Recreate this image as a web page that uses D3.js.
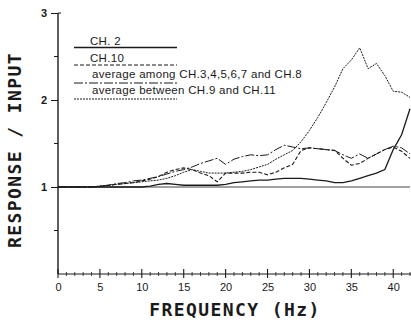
<!DOCTYPE html>
<html><head><meta charset="utf-8">
<script src="https://cdn.jsdelivr.net/npm/d3@7"></script>
<style>body{margin:0;background:#fff}svg{display:block}</style>
</head><body>
<svg id="c" width="411" height="322"></svg>
<script>
const freq = d3.range(0, 43);
const ch2 = [1.0,1.0,1.0,1.0,1.0,1.0,1.0,1.0,1.0,1.0,1.0,1.01,1.03,1.04,1.03,1.02,1.02,1.02,1.02,1.02,1.03,1.05,1.06,1.07,1.08,1.08,1.09,1.1,1.1,1.1,1.09,1.08,1.07,1.05,1.05,1.07,1.1,1.13,1.16,1.2,1.43,1.6,1.9];
const ch10 = [1.0,1.0,1.0,1.0,1.0,1.01,1.02,1.03,1.04,1.05,1.07,1.09,1.12,1.17,1.2,1.22,1.2,1.16,1.13,1.06,1.16,1.16,1.16,1.17,1.17,1.14,1.17,1.22,1.26,1.42,1.45,1.44,1.43,1.42,1.33,1.25,1.27,1.33,1.38,1.43,1.46,1.41,1.33];
const avg3to8 = [1.0,1.0,1.0,1.0,1.0,1.01,1.02,1.04,1.05,1.07,1.08,1.1,1.12,1.15,1.18,1.2,1.23,1.27,1.3,1.33,1.26,1.32,1.35,1.37,1.36,1.37,1.43,1.48,1.46,1.44,1.45,1.44,1.43,1.42,1.37,1.33,1.38,1.33,1.38,1.43,1.47,1.45,1.38];
const avg9and11 = [1.0,1.0,1.0,1.0,1.0,1.01,1.02,1.03,1.04,1.05,1.06,1.07,1.08,1.1,1.13,1.17,1.2,1.18,1.16,1.16,1.16,1.17,1.18,1.2,1.23,1.26,1.32,1.37,1.42,1.52,1.65,1.8,1.97,2.15,2.36,2.46,2.6,2.36,2.42,2.28,2.1,2.09,2.03];
const legendLabels = ["CH. 2","CH.10","average among CH.3,4,5,6,7 and CH.8","average between CH.9 and CH.11"];
const xTicks = [0,5,10,15,20,25,30,35,40];
const yTicks = [1,2,3];

const svg = d3.select("#c");
const x = d3.scaleLinear().domain([0,42]).range([58,410]);
const y = d3.scaleLinear().domain([0,3]).range([274,13]);
const ink = "#1a1a1a";

// axes
const gx = svg.append("g").attr("transform","translate(0,274)");
gx.call(d3.axisBottom(x).tickValues(xTicks).tickSize(0).tickPadding(9).tickFormat(d3.format("d")))
  .call(g=>g.select(".domain").remove());
gx.selectAll("text").attr("font-family","Liberation Sans, Arial, sans-serif").attr("font-size",11).attr("fill",ink);
svg.append("line").attr("x1",x(0)).attr("x2",411).attr("y1",274).attr("y2",274).attr("stroke",ink).attr("stroke-width",1.2);
svg.append("g").selectAll("line").data(d3.range(0,43)).join("line")
  .attr("x1",d=>x(d)).attr("x2",d=>x(d))
  .attr("y1",d=>d%5===0?269:272).attr("y2",d=>d%5===0?278:276)
  .attr("stroke",ink).attr("stroke-width",d=>d%5===0?1.1:0.8);

const gy = svg.append("g").attr("transform","translate(58,0)");
gy.call(d3.axisLeft(y).tickValues(yTicks).tickSize(7).tickPadding(4).tickFormat(d3.format("d")))
  .call(g=>g.select(".domain").remove());
gy.selectAll("text").attr("font-family","Liberation Sans, Arial, sans-serif").attr("font-size",11).attr("font-weight","bold").attr("fill",ink);
gy.selectAll("line").attr("stroke",ink);
svg.append("line").attr("x1",58).attr("x2",58).attr("y1",y(3)).attr("y2",274).attr("stroke",ink).attr("stroke-width",1.4);
svg.append("line").attr("x1",58).attr("x2",61).attr("y1",y(3)).attr("y2",y(3)).attr("stroke",ink);
svg.append("g").selectAll("line").data([0.5,1.5,2.5]).join("line")
  .attr("x1",54).attr("x2",58).attr("y1",d=>y(d)).attr("y2",d=>y(d)).attr("stroke",ink);

// reference line at 1
svg.append("line").attr("x1",x(0)).attr("x2",x(42)).attr("y1",y(1)).attr("y2",y(1)).attr("stroke","#444").attr("stroke-width",1);

const series = [
  {v:ch2, dash:null, w:1.3},
  {v:ch10, dash:"4,2", w:1.1},
  {v:avg3to8, dash:"9,2,2,2", w:1},
  {v:avg9and11, dash:"2,1", w:1}
];
const line = d3.line().x((d,i)=>x(freq[i])).y(d=>y(d));
svg.append("g").selectAll("path").data(series).join("path")
  .attr("d",d=>line(d.v)).attr("fill","none").attr("stroke",ink)
  .attr("stroke-width",d=>d.w).attr("stroke-dasharray",d=>d.dash);

// legend
const ly = [47.5,65,83,99];
const ty = [45,62,78,94];
const lg = svg.append("g");
series.forEach((s,i)=>{
  lg.append("line").attr("x1",74).attr("x2",177).attr("y1",ly[i]).attr("y2",ly[i])
    .attr("stroke",ink).attr("stroke-width",s.w).attr("stroke-dasharray",s.dash);
  lg.append("text").attr("x",i<2?90:92).attr("y",ty[i]).text(legendLabels[i])
    .attr("font-family","Liberation Sans, Arial, sans-serif").attr("font-size",11.5)
    .attr("letter-spacing",0.3).attr("fill",ink);
});

// axis titles
svg.append("text").attr("transform","translate(21,150) rotate(-90)").attr("text-anchor","middle")
  .attr("font-family","DejaVu Sans Mono, monospace").attr("font-weight","bold").attr("font-size",18)
  .attr("letter-spacing",1.4).attr("fill",ink).text("RESPONSE / INPUT");
svg.append("text").attr("x",235).attr("y",316).attr("text-anchor","middle")
  .attr("font-family","DejaVu Sans Mono, monospace").attr("font-weight","bold").attr("font-size",18)
  .attr("letter-spacing",1.4).attr("fill",ink).text("FREQUENCY (Hz)");
</script>
</body></html>
